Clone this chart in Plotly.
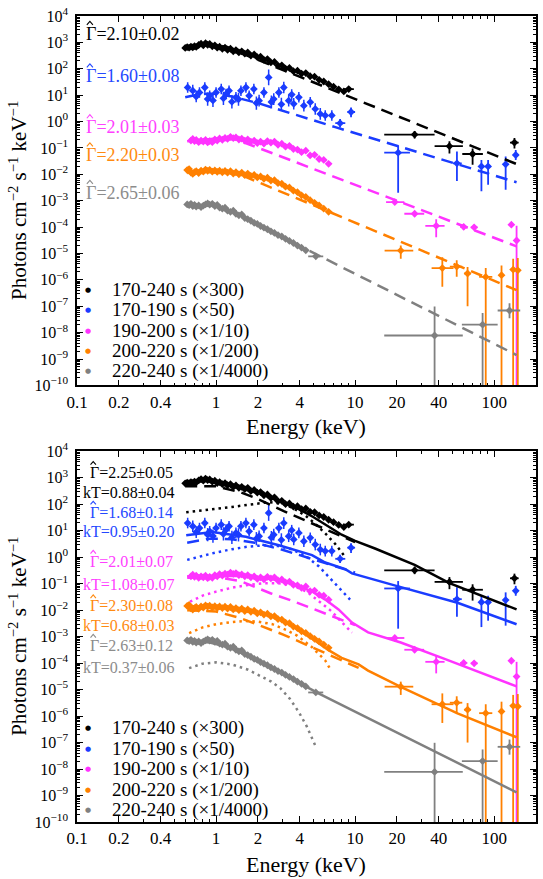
import math
import plotly.graph_objects as go

# ---------------- data ----------------
E_XRT = [0.60, 0.62, 0.64, 0.66, 0.68, 0.70, 0.72, 0.75, 0.78, 0.81, 0.84, 0.87, 0.90, 0.94,
         0.98, 1.02, 1.06, 1.11, 1.16, 1.21, 1.27, 1.33, 1.39, 1.46, 1.53, 1.61, 1.69, 1.78,
         1.88, 1.98, 2.09, 2.21, 2.34, 2.48, 2.63, 2.79, 2.97, 3.16, 3.37, 3.60, 3.85, 4.12,
         4.42, 4.75, 5.11, 5.51, 5.95, 6.45, 7.00, 7.62, 8.30]

F_BLACK = [617, 660, 630, 690, 645, 720, 675, 795, 890, 775, 935, 815, 870, 710, 775, 630, 690,
           575, 630, 525, 575, 457, 513, 417, 457, 372, 417, 316, 347, 275, 288, 219, 234, 174,
           182, 132, 135, 102, 107, 81, 85, 66, 69, 52, 50, 38, 33, 26, 21, 16.6, 13.8]
F_MAGENTA = [0.19, 0.219, 0.182, 0.20, 0.166, 0.19, 0.174, 0.20, 0.162, 0.182, 0.166, 0.209,
             0.19, 0.229, 0.204, 0.24, 0.219, 0.263, 0.234, 0.251, 0.209, 0.224, 0.19, 0.209,
             0.174, 0.19, 0.151, 0.174, 0.145, 0.182, 0.158, 0.174, 0.132, 0.145, 0.112, 0.12,
             0.091, 0.087, 0.069, 0.079, 0.052, 0.055, 0.038, 0.035, 0.025]          # E_XRT[3:48]
F_ORANGE = [0.0145, 0.0158, 0.0117, 0.0105, 0.012, 0.0132, 0.0112, 0.0138, 0.0126, 0.0151,
            0.0135, 0.0148, 0.0126, 0.0141, 0.0123, 0.0138, 0.012, 0.0135, 0.0115, 0.0132,
            0.0107, 0.012, 0.010, 0.0115, 0.0093, 0.0107, 0.0087, 0.0095, 0.0076, 0.0083,
            0.0068, 0.0074, 0.0058, 0.0060, 0.0046, 0.0044, 0.0034, 0.0032, 0.0024, 0.0021,
            0.0016, 0.00138, 0.00105, 0.00083, 0.00066, 0.0005, 0.00038]            # E_XRT[1:48]
F_GREY = [7.2e-4, 6.8e-4, 7.6e-4, 6.3e-4, 6.9e-4, 6.0e-4, 6.6e-4, 5.75e-4, 6.5e-4, 7.2e-4,
          7.9e-4, 7.1e-4, 7.6e-4, 6.3e-4, 6.9e-4, 5.5e-4, 5.0e-4, 5.4e-4, 4.2e-4, 3.8e-4,
          4.2e-4, 3.2e-4, 2.8e-4, 3.0e-4, 2.2e-4, 2.0e-4, 1.74e-4, 1.45e-4, 1.32e-4, 1.1e-4,
          9.5e-5, 8.3e-5, 6.9e-5, 6.0e-5, 5.0e-5, 4.4e-5, 3.6e-5, 3.0e-5, 2.5e-5, 2.0e-5,
          1.66e-5, 1.32e-5]                                                         # E_XRT[1:43]
ERR_DEX = {"black": 0.05, "magenta": 0.07, "orange": 0.07, "grey": 0.08}

# blue soft-band points: (energy, flux, error in dex)
BLUE_SOFT = [(0.625, 19.5, 0.20), (0.68, 14.8, 0.22), (0.72, 8.9, 0.22), (0.76, 12.6, 0.20),
             (0.83, 19.5, 0.20), (0.87, 7.1, 0.25), (0.90, 9.5, 0.20), (0.95, 6.3, 0.25),
             (1.00, 12.6, 0.20), (1.09, 17.0, 0.20), (1.13, 7.6, 0.25), (1.18, 11.0, 0.20),
             (1.24, 14.8, 0.20), (1.30, 5.6, 0.25), (1.39, 8.3, 0.20), (1.45, 7.0, 0.25),
             (1.51, 14.8, 0.20), (1.64, 19.5, 0.20), (1.73, 9.5, 0.20), (1.87, 17.0, 0.20),
             (1.95, 5.0, 0.25), (2.04, 6.2, 0.22), (2.21, 12.6, 0.20), (2.39, 47.0, 0.30),
             (2.50, 5.5, 0.25), (2.60, 7.1, 0.22), (2.83, 12.6, 0.20), (2.95, 4.5, 0.25),
             (3.07, 19.5, 0.22), (3.33, 6.2, 0.22), (3.50, 10.5, 0.20), (3.62, 4.7, 0.22),
             (3.94, 8.3, 0.20), (4.28, 4.0, 0.22), (4.76, 5.4, 0.20), (5.17, 3.0, 0.22),
             (5.62, 1.95, 0.22), (6.10, 1.7, 0.20), (6.80, 1.7, 0.20)]

# binned points: (E, E_low, E_high, F, F_low, F_high)
BLACK_BINS = [(9.0, 8.2, 9.8, 17, 14.5, 19.5), (26.8, 16.2, 37.3, 0.32, 0.23, 0.44),
              (47.7, 37.3, 59.6, 0.117, 0.062, 0.178), (70, 59, 83, 0.059, 0.023, 0.095),
              (140, 130, 150, 0.16, 0.095, 0.24)]
BLUE_BINS = [(7.8, 7.2, 8.5, 0.87, 0.6, 1.25), (9.35, 8.8, 10.0, 2.3, 1.45, 3.4),
             (20.4, 16.2, 24.8, 0.066, 0.002, 0.126), (54, 50.5, 58.5, 0.026, 0.0056, 0.074),
             (81, 78, 85, 0.020, 0.0023, 0.035), (90.5, 87, 94, 0.020, 0.004, 0.035),
             (121, 117, 125, 0.024, 0.0026, 0.047), (143, 139, 147, 0.054, 0.035, 0.083)]
MAGENTA_BINS = [(19.3, 16.7, 22.6, 8.9e-4, 7.4e-4, 1.07e-3), (26.8, 22.6, 31.4, 3.2e-4, 2.6e-4, 3.9e-4),
                (38.3, 32, 44, 1.12e-4, 4.1e-5, 2.0e-4), (60.4, 57, 64, 1.02e-4, 8.1e-5, 1.3e-4),
                (71.8, 68, 76, 9.8e-5, 7.8e-5, 1.24e-4), (133, 129, 137, 1.23e-4, 1.0e-4, 1.5e-4),
                (145, 143, 147, 3.1e-5, 1e-12, 1.12e-4)]
ORANGE_BINS = [(21.3, 16.3, 26.2, 1.29e-5, 6.3e-6, 2.0e-5), (42.4, 35.5, 51, 2.8e-6, 5.5e-7, 7.2e-6),
               (53.8, 48, 59, 3.2e-6, 1.3e-6, 5.6e-6), (64.4, 61, 68, 1.74e-6, 1.0e-7, 3.1e-6),
               (87, 78, 97, 1.29e-6, 1e-12, 2.8e-6), (113, 109, 117, 1.5e-6, 1e-12, 3.5e-6),
               (137, 134, 140, 2.45e-6, 1e-12, 6.3e-6), (148, 145, 151, 2.3e-6, 1e-12, 6.8e-6)]
GREY_BINS = [(5.22, 4.6, 5.9, 7.8e-6, 6.5e-6, 9.3e-6), (37.3, 16.2, 59.5, 7.8e-9, 1e-12, 9.8e-8),
             (82.6, 58.6, 106, 2.0e-8, 1e-12, 5.5e-8), (129, 106, 154, 6.9e-8, 3.5e-8, 1.3e-7)]

# model curves: energies and log10(flux)
TOP_BLACK_E = [0.6, 0.7, 0.85, 1.0, 1.2, 1.64, 7.6, 145]
TOP_BLACK_L = [2.75, 2.84, 2.90, 2.90, 2.83, 2.52, 1.105, -1.61]
TOP_BLUE_E = [0.6, 0.7, 0.85, 1.0, 1.3, 2.0, 7.2, 145]
TOP_BLUE_L = [0.92, 1.0, 1.05, 1.05, 0.95, 0.70, -0.21, -2.30]
TOP_MAG_E = [0.62, 0.8, 1.0, 1.4, 2.21, 145]
TOP_MAG_L = [-0.75, -0.68, -0.64, -0.68, -1.08, -4.73]
TOP_ORA_E = [0.62, 0.8, 1.0, 1.3, 1.6, 145]
TOP_ORA_L = [-1.95, -1.86, -1.84, -1.90, -2.08, -6.39]
TOP_GREY_E = [0.62, 0.8, 1.0, 1.2, 145]
TOP_GREY_L = [-3.20, -3.16, -3.18, -3.33, -8.85]

BOT_BLACK_TOT_E = [0.6, 0.85, 1.2, 1.64, 2.0, 2.5, 3.16, 4.0, 5.0, 6.1, 7.2, 8.0, 10, 13.9, 26.8, 47.7, 145]
BOT_BLACK_TOT_L = [2.80, 2.90, 2.78, 2.60, 2.45, 2.25, 2.02, 1.80, 1.52, 1.25, 1.02, 0.85, 0.62, 0.33, -0.29, -0.98, -1.97]
BOT_BLACK_PL_E = [0.6, 1.0, 1.5, 2.0, 3.07, 6.4, 10]
BOT_BLACK_PL_L = [2.68, 2.68, 2.45, 2.20, 1.74, 1.01, 0.57]
BOT_BLACK_BB_E = [0.61, 0.8, 1.0, 1.3, 1.64, 2.0, 2.4, 3.0, 3.6, 4.4, 5.2, 6.1, 7.2, 8.5]
BOT_BLACK_BB_L = [1.70, 1.76, 1.83, 1.90, 1.97, 2.04, 2.08, 2.02, 1.85, 1.57, 1.25, 0.90, 0.50, 0.0]

BOT_BLUE_TOT_E = [0.61, 0.94, 1.64, 2.83, 4.9, 6.1, 8.5, 9.5, 20.4, 54.5, 145]
BOT_BLUE_TOT_L = [0.83, 0.95, 0.77, 0.45, 0.08, -0.20, -0.45, -0.61, -1.10, -1.72, -2.53]
BOT_BLUE_PL_E = [0.62, 0.9, 1.3, 1.9, 3.0, 4.4, 6.1, 10]
BOT_BLUE_PL_L = [0.55, 0.70, 0.68, 0.55, 0.28, 0.02, -0.22, -0.58]
BOT_BLUE_BB_E = [0.62, 0.8, 1.0, 1.3, 1.7, 2.2, 2.8, 3.5, 4.4, 5.5, 6.5, 8.0, 9.2]
BOT_BLUE_BB_L = [-0.10, 0.05, 0.18, 0.30, 0.40, 0.45, 0.42, 0.30, 0.05, -0.35, -0.75, -1.25, -1.60]

BOT_MAG_TOT_E = [0.62, 1.0, 1.5, 2.0, 2.5, 3.16, 4.0, 5.0, 6.1, 7.6, 9.5, 12.4, 21.3, 44, 145]
BOT_MAG_TOT_L = [-0.72, -0.70, -0.70, -0.78, -0.82, -0.93, -1.10, -1.32, -1.60, -1.97, -2.47, -2.84, -3.22, -3.84, -4.88]
BOT_MAG_PL_E = [0.62, 1.0, 1.5, 2.46, 3.5, 6.25, 10]
BOT_MAG_PL_L = [-0.78, -0.75, -0.90, -1.36, -1.64, -2.15, -2.56]
BOT_MAG_BB_E = [0.65, 0.8, 1.0, 1.3, 1.7, 2.2, 2.8, 3.5, 4.5, 5.5, 6.8, 8.0, 9.5]
BOT_MAG_BB_L = [-1.68, -1.45, -1.30, -1.15, -1.05, -0.98, -0.98, -1.05, -1.30, -1.65, -2.05, -2.45, -2.85]

BOT_ORA_TOT_E = [0.62, 0.9, 1.39, 1.73, 2.16, 2.68, 3.33, 4.15, 5.17, 6.4, 8.0, 10.6, 12.4, 21.3, 54.5, 145]
BOT_ORA_TOT_L = [-1.85, -1.85, -1.95, -2.02, -2.14, -2.28, -2.52, -2.83, -3.15, -3.50, -3.80, -4.05, -4.28, -4.90, -5.90, -6.80]
BOT_ORA_PL_E = [0.62, 1.0, 1.5, 2.0, 3.07, 5.0, 8.0, 10.6]
BOT_ORA_PL_L = [-2.0, -2.05, -2.30, -2.55, -2.93, -3.42, -3.89, -4.18]
BOT_ORA_BB_E = [0.64, 0.8, 1.0, 1.3, 1.64, 2.0, 2.54, 3.2, 3.85, 4.9, 6.1, 6.6]
BOT_ORA_BB_L = [-2.87, -2.65, -2.53, -2.45, -2.41, -2.43, -2.53, -2.75, -2.97, -3.40, -3.90, -4.21]

BOT_GREY_TOT_E = [0.62, 0.9, 1.2, 1.64, 2.27, 3.33, 4.15, 5.5, 145]
BOT_GREY_TOT_L = [-3.15, -3.22, -3.38, -3.70, -4.08, -4.51, -4.80, -5.15, -8.88]
BOT_GREY_BB_E = [0.64, 0.8, 1.0, 1.3, 1.7, 2.04, 2.5, 2.9, 3.4, 3.94, 4.5, 5.2]
BOT_GREY_BB_L = [-4.19, -4.02, -3.97, -4.05, -4.25, -4.46, -4.70, -4.95, -5.35, -5.85, -6.40, -7.14]

TOP_LABELS = ["\u0393=2.10\u00b10.02", "\u0393=1.60\u00b10.08", "\u0393=2.01\u00b10.03",
              "\u0393=2.20\u00b10.03", "\u0393=2.65\u00b10.06"]
BOT_GAMMA = ["\u0393=2.25\u00b10.05", "\u0393=1.68\u00b10.14", "\u0393=2.01\u00b10.07",
             "\u0393=2.30\u00b10.08", "\u0393=2.63\u00b10.12"]
BOT_KT = ["kT=0.88\u00b10.04", "kT=0.95\u00b10.20", "kT=1.08\u00b10.07", "kT=0.68\u00b10.03", "kT=0.37\u00b10.06"]
LEGEND = ["170-240 s (\u00d7300)", "170-190 s (\u00d750)", "190-200 s (\u00d71/10)",
          "200-220 s (\u00d71/200)", "220-240 s (\u00d71/4000)"]

# ---------------- style ----------------
BLACK, BLUE, MAGENTA, ORANGE, GREY = "#000000", "#1a3cff", "#ff33ff", "#ff8000", "#808080"
COLORS = [BLACK, BLUE, MAGENTA, ORANGE, GREY]
TEXT_COLORS = [BLACK, "#2448ff", "#ff40ff", "#ff8a10", "#8c8c8c"]
FONT = "Liberation Serif"
W, H = 543, 879
ML, MR, MT, MB = 77, 5, 6, 57
PW, PH = W - ML - MR, H - MT - MB


def fx(px):
    return (px - ML) / PW


def fy(py):
    return (H - MB - py) / PH


fig = go.Figure()


def add_points(E, F, dex, xfrac, color, xa, ya):
    fig.add_trace(go.Scatter(
        x=E, y=F, mode="markers", xaxis=xa, yaxis=ya, showlegend=False,
        marker=dict(symbol="diamond", size=6, color=color),
        error_y=dict(type="data", symmetric=False,
                     array=[f * (10 ** d - 1) for f, d in zip(F, dex)],
                     arrayminus=[f * (1 - 10 ** -d) for f, d in zip(F, dex)],
                     color=color, thickness=1.5, width=0),
        error_x=dict(type="data", symmetric=True, array=[e * xfrac for e in E],
                     color=color, thickness=1.5, width=0)))


def add_bins(bins, color, xa, ya):
    fig.add_trace(go.Scatter(
        x=[b[0] for b in bins], y=[b[3] for b in bins], mode="markers", xaxis=xa, yaxis=ya,
        showlegend=False, marker=dict(symbol="diamond", size=6, color=color),
        error_x=dict(type="data", symmetric=False, array=[b[2] - b[0] for b in bins],
                     arrayminus=[b[0] - b[1] for b in bins], color=color, thickness=1.8, width=0),
        error_y=dict(type="data", symmetric=False, array=[b[5] - b[3] for b in bins],
                     arrayminus=[b[3] - b[4] for b in bins], color=color, thickness=1.8, width=0)))


def add_model(E, L, color, dash, xa, ya):
    fig.add_trace(go.Scatter(
        x=E, y=[10 ** v for v in L], mode="lines", xaxis=xa, yaxis=ya, showlegend=False,
        line=dict(color=color, width=2.5, dash=dash), hoverinfo="skip"))


DASH = "12px,7px"
DOT = "2.5px,4px"

for xa, ya in (("x", "y"), ("x2", "y2")):
    add_points(E_XRT, F_BLACK, [ERR_DEX["black"]] * len(F_BLACK), 0.02, BLACK, xa, ya)
    add_points([p[0] for p in BLUE_SOFT], [p[1] for p in BLUE_SOFT], [p[2] for p in BLUE_SOFT],
               0.025, BLUE, xa, ya)
    add_points(E_XRT[3:48], F_MAGENTA, [ERR_DEX["magenta"]] * len(F_MAGENTA), 0.02, MAGENTA, xa, ya)
    add_points(E_XRT[1:48], F_ORANGE, [ERR_DEX["orange"]] * len(F_ORANGE), 0.02, ORANGE, xa, ya)
    add_points(E_XRT[1:43], F_GREY, [ERR_DEX["grey"]] * len(F_GREY), 0.02, GREY, xa, ya)
    add_bins(BLACK_BINS, BLACK, xa, ya)
    add_bins(BLUE_BINS, BLUE, xa, ya)
    add_bins(MAGENTA_BINS, MAGENTA, xa, ya)
    add_bins(ORANGE_BINS, ORANGE, xa, ya)
    add_bins(GREY_BINS, GREY, xa, ya)

# top panel: absorbed power laws
add_model(TOP_BLACK_E, TOP_BLACK_L, BLACK, DASH, "x", "y")
add_model(TOP_BLUE_E, TOP_BLUE_L, BLUE, DASH, "x", "y")
add_model(TOP_MAG_E, TOP_MAG_L, MAGENTA, DASH, "x", "y")
add_model(TOP_ORA_E, TOP_ORA_L, ORANGE, DASH, "x", "y")
add_model(TOP_GREY_E, TOP_GREY_L, GREY, DASH, "x", "y")

# bottom panel: power law + blackbody
for (te, tl, pe, pl, be, bl, c) in [
    (BOT_BLACK_TOT_E, BOT_BLACK_TOT_L, BOT_BLACK_PL_E, BOT_BLACK_PL_L, BOT_BLACK_BB_E, BOT_BLACK_BB_L, BLACK),
    (BOT_BLUE_TOT_E, BOT_BLUE_TOT_L, BOT_BLUE_PL_E, BOT_BLUE_PL_L, BOT_BLUE_BB_E, BOT_BLUE_BB_L, BLUE),
    (BOT_MAG_TOT_E, BOT_MAG_TOT_L, BOT_MAG_PL_E, BOT_MAG_PL_L, BOT_MAG_BB_E, BOT_MAG_BB_L, MAGENTA),
    (BOT_ORA_TOT_E, BOT_ORA_TOT_L, BOT_ORA_PL_E, BOT_ORA_PL_L, BOT_ORA_BB_E, BOT_ORA_BB_L, ORANGE),
]:
    add_model(te, tl, c, "solid", "x2", "y2")
    add_model(pe, pl, c, DASH, "x2", "y2")
    add_model(be, bl, c, DOT, "x2", "y2")
add_model(BOT_GREY_TOT_E, BOT_GREY_TOT_L, GREY, "solid", "x2", "y2")
add_model(BOT_GREY_BB_E, BOT_GREY_BB_L, GREY, DOT, "x2", "y2")

# ---------------- axes ----------------
XT = [0.1, 0.2, 0.4, 1, 2, 4, 10, 20, 40, 100, 200]
YT = [10.0 ** k for k in range(-10, 5)]
YTT = ["10<sup>%s</sup>" % (str(k).replace("-", "\u2212")) for k in range(-10, 5)]

xax = dict(type="log", range=[-1, math.log10(200)], showline=True, linecolor="black", linewidth=1.5,
           mirror="allticks", ticks="inside", ticklen=6, tickwidth=1.2, tickcolor="black",
           tickmode="array", tickvals=XT, ticktext=[str(v) for v in XT],
           tickfont=dict(family=FONT, size=17, color="black"), showgrid=False, zeroline=False,
           minor=dict(ticks="inside", ticklen=3, tickcolor="black", dtick="D1", showgrid=False))
yax = dict(type="log", range=[-10, 4], showline=True, linecolor="black", linewidth=1.5,
           mirror="allticks", ticks="inside", ticklen=6, tickwidth=1.2, tickcolor="black",
           tickmode="array", tickvals=YT, ticktext=YTT, ticklabelstandoff=4,
           tickfont=dict(family=FONT, size=16, color="black"), showgrid=False, zeroline=False,
           minor=dict(ticks="inside", ticklen=3, tickcolor="black", dtick="D1", showgrid=False))

fig.update_layout(
    width=W, height=H, margin=dict(l=ML, r=MR, t=MT, b=MB),
    paper_bgcolor="white", plot_bgcolor="white", showlegend=False,
    font=dict(family=FONT, color="black"),
    xaxis=dict(xax, anchor="y", domain=[0, 1]),
    yaxis=dict(yax, anchor="x", domain=[fy(380), 1]),
    xaxis2=dict(xax, anchor="y2", domain=[0, 1]),
    yaxis2=dict(yax, anchor="x2", domain=[0, fy(446.7)]),
)

ann = []
shapes = []


def text(t, px, py, size, color="black", anchor="left", family=FONT, angle=0):
    ann.append(dict(text=t, x=fx(px), y=fy(py), xref="paper", yref="paper", showarrow=False,
                    xanchor=anchor, yanchor="middle", textangle=angle,
                    font=dict(family=family, size=size, color=color)))


def gamma_label(t, px, py, size, color):
    text(t, px, py, size, color)
    # circumflex accent drawn over the Gamma
    cx = px + 0.33 * size
    yb = py - 0.50 * size
    yt = py - 0.70 * size
    hw = 0.17 * size
    shapes.append(dict(type="path", xref="paper", yref="paper",
                       path="M %.5f %.5f L %.5f %.5f L %.5f %.5f" % (fx(cx - hw), fy(yb), fx(cx), fy(yt),
                                                                  fx(cx + hw), fy(yb)),
                       line=dict(color=color, width=1.1)))


YTITLE = "Photons cm<sup>\u22122</sup> s<sup>\u22121</sup> keV<sup>\u22121</sup>"
for ty, cy in ((421.7, 193), (865, 634.3)):
    text("Energy (keV)", 306.5, ty, 22, anchor="center")
    text(YTITLE, 18, cy, 21, anchor="center", angle=-90)

for t, c, py in zip(TOP_LABELS, TEXT_COLORS, (24, 67, 118.5, 147, 185)):
    gamma_label(t, 84, py, 18, c)
for g, k, c, pg, pk in zip(BOT_GAMMA, BOT_KT, TEXT_COLORS,
                           (468.3, 508.5, 558.3, 603.3, 643.3), (488.5, 527.5, 581.7, 623.3, 666)):
    gamma_label(g, 88, pg, 16, c)
    text(k, 81, pk, 16, c)

for y0 in (283.3, 727.3):
    for i, (lab, c) in enumerate(zip(LEGEND, COLORS)):
        py = y0 + 20.6 * i
        text("\u25cf", 88, py, 7, c, anchor="center", family="DejaVu Sans")
        text(lab, 110, py, 19)

fig.update_layout(annotations=ann, shapes=shapes)
fig.write_html("out.html", config={"displayModeBar": False},
               post_script="document.body.style.margin='0';document.body.style.overflow='hidden';")
